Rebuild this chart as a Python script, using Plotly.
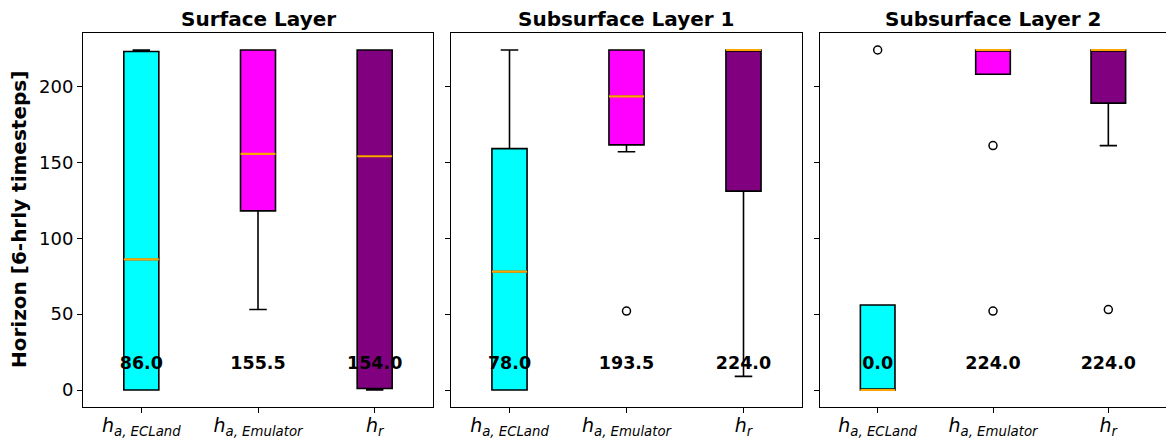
import plotly.graph_objects as go

# ---------------- data ----------------
panel_titles = ["Surface Layer", "Subsurface Layer 1", "Subsurface Layer 2"]
categories = ["h_a,ECLand", "h_a,Emulator", "h_r"]
tick_labels = ["<i>h</i><sub><i>a, ECLand</i></sub>",
               "<i>h</i><sub><i>a, Emulator</i></sub>",
               "<i>h</i><sub><i>r</i></sub>"]
positions = [1, 2, 3]
box_colors = ["#00ffff", "#ff00ff", "#800080"]

# per panel, per category
q1 = [[0, 118, 1], [0, 161.5, 131], [0, 208, 189]]
median = [[86.0, 155.5, 154.0], [78.0, 193.5, 224.0], [0.0, 224.0, 224.0]]
q3 = [[223, 224, 224], [159, 224, 224], [56, 224, 224]]
lower_whisker = [[0, 53, 0], [0, 157, 9], [0, 208, 161]]
upper_whisker = [[224, 224, 224], [224, 224, 224], [56, 224, 224]]
outliers = [[[], [], []], [[], [52], []], [[224], [161, 52], [53]]]

y_ticks = [0, 50, 100, 150, 200]
y_range = [-11.2, 235.2]

# ---------------- layout constants ----------------
W, H = 1166, 440
ml, mr, mt, mb = 83, 0, 33, 33
pw = W - ml - mr
panel_px = [(83, 433), (451, 802), (820, 1167)]
domains = [[(a - ml) / pw, min(1.0, (b - ml) / pw)] for a, b in panel_px]
box_w = 0.3
FONT = "DejaVu Sans"

fig = go.Figure()

for p in range(3):
    xa = "x" if p == 0 else f"x{p+1}"
    ya = "y" if p == 0 else f"y{p+1}"
    for c in range(3):
        fig.add_trace(go.Box(
            x=[positions[c]], q1=[q1[p][c]], median=[median[p][c]], q3=[q3[p][c]],
            lowerfence=[lower_whisker[p][c]], upperfence=[upper_whisker[p][c]],
            width=box_w, whiskerwidth=0.5, fillcolor=box_colors[c],
            line=dict(color="black", width=1.6), boxpoints=False,
            xaxis=xa, yaxis=ya, showlegend=False, hoverinfo="skip"))
    for c in range(3):
        fig.add_trace(go.Scatter(
            x=[positions[c] - box_w / 2, positions[c] + box_w / 2],
            y=[median[p][c], median[p][c]], mode="lines",
            line=dict(color="#ffa500", width=2.2),
            xaxis=xa, yaxis=ya, showlegend=False, hoverinfo="skip"))
    ox, oy = [], []
    for c in range(3):
        for v in outliers[p][c]:
            ox.append(positions[c])
            oy.append(v)
    fig.add_trace(go.Scatter(
        x=ox, y=oy, mode="markers",
        marker=dict(symbol="circle-open", size=8, color="black", line=dict(width=1.5)),
        xaxis=xa, yaxis=ya, showlegend=False, hoverinfo="skip"))
    fig.add_trace(go.Scatter(
        x=positions, y=[16.5] * 3, mode="text",
        text=[f"<b>{m:.1f}</b>" for m in median[p]],
        textfont=dict(family=FONT, size=17.5, color="black"),
        textposition="middle center",
        xaxis=xa, yaxis=ya, showlegend=False, hoverinfo="skip"))

layout = dict(
    width=W, height=H, margin=dict(l=ml, r=mr, t=mt, b=mb, autoexpand=False),
    paper_bgcolor="white", plot_bgcolor="white", boxmode="overlay",
    font=dict(family=FONT, color="black"),
)
for p in range(3):
    xk = "xaxis" if p == 0 else f"xaxis{p+1}"
    yk = "yaxis" if p == 0 else f"yaxis{p+1}"
    layout[xk] = dict(
        domain=domains[p], range=[0.5, 3.5], tickmode="array",
        tickvals=positions, ticktext=tick_labels, automargin=False,
        ticks="outside", ticklen=5, tickcolor="black", tickwidth=1,
        ticklabelstandoff=-4,
        showline=True, linecolor="black", linewidth=1, mirror=True,
        showgrid=False, zeroline=False, tickfont=dict(size=19, family=FONT),
        anchor="y" if p == 0 else f"y{p+1}")
    layout[yk] = dict(
        range=y_range, tickmode="array", tickvals=y_ticks, automargin=False,
        ticks="outside", ticklen=5, tickcolor="black", tickwidth=1,
        showline=True, linecolor="black", linewidth=1, mirror=True,
        showgrid=False, zeroline=False, showticklabels=(p == 0),
        tickfont=dict(size=18, family=FONT),
        anchor="x" if p == 0 else f"x{p+1}")
fig.update_layout(**layout)

annotations = []
for p in range(3):
    annotations.append(dict(
        text=f"<b>{panel_titles[p]}</b>", xref="paper", yref="paper",
        x=(domains[p][0] + domains[p][1]) / 2 if p < 2 else (737 + 346 / 2) / pw,
        y=1 + (mt - 19) / (H - mt - mb),
        xanchor="center", yanchor="middle", showarrow=False,
        font=dict(family=FONT, size=20, color="black")))
annotations.append(dict(
    text="<b>Horizon [6-hrly timesteps]</b>", xref="paper", yref="paper",
    x=-(ml - 19) / pw, y=0.5, textangle=-90, xanchor="center", yanchor="middle",
    showarrow=False, font=dict(family=FONT, size=20, color="black")))
fig.update_layout(annotations=annotations)

fig.write_html("out.html")
